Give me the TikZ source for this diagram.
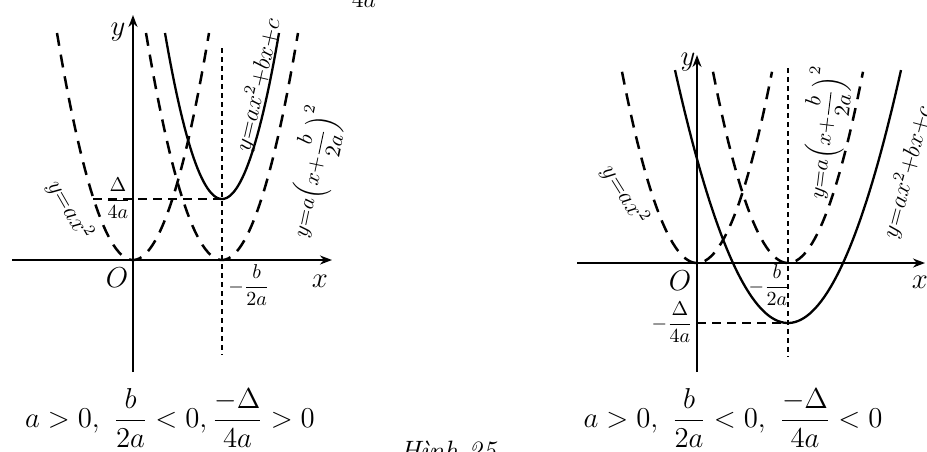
\documentclass[tikz,border=0pt]{standalone}
\usepackage{amsmath}
\usetikzlibrary{arrows.meta}
\begin{document}
\begin{tikzpicture}[x=0.5pt,y=-0.5pt,
  axis/.style={line width=0.95pt,-{Stealth[length=6pt,width=4.5pt]}},
  para/.style={line width=1.25pt,dash pattern=on 6.5pt off 4.5pt},
  curve/.style={line width=1.15pt},
  guide/.style={line width=0.6pt,dash pattern=on 2.5pt off 2pt},
  hguide/.style={line width=0.7pt,dash pattern=on 4.5pt off 3pt},
  lbl/.style={inner sep=0pt,font=\fontsize{12}{14}\selectfont},
  flbl/.style={inner sep=0pt,font=\fontsize{11}{13}\selectfont},
  small/.style={inner sep=0pt,font=\fontsize{10}{12}\selectfont},
  axlbl/.style={inner sep=0pt,font=\fontsize{14}{16}\selectfont},
  captxt/.style={inner sep=0pt,font=\fontsize{14}{17}\selectfont}]
\useasboundingbox (0,0) rectangle (927,451);

% ---------- left diagram ----------
\draw[axis] (12,260) -- (332,260);
\draw[axis] (133,372) -- (133,15);
\draw[guide] (222,48) -- (222,355);
\draw[hguide] (93,199) -- (222,199);
\draw[para] plot[domain=57:209,samples=60] (\x,{260-0.0393*(\x-133)*(\x-133)});
\draw[para] plot[domain=146:298,samples=60] (\x,{260-0.0393*(\x-222)*(\x-222)});
\draw[curve] plot[domain=165:279,samples=60] (\x,{199-0.0511*(\x-222)*(\x-222)});

\node[axlbl] (ly) at (118,32) {$y$};
\node[axlbl] (lO) at (117,278) {$O$};
\node[axlbl] (lx) at (320,281) {$x$};
\node[small,anchor=base] (lD) at (118,205) {$\dfrac{\Delta}{4a}$};
\node[small,anchor=base west] (lb) at (228,292) {$-\dfrac{b}{2a}$};
\node[lbl,rotate=-60] (lf1) at (70,210) {$y{=}ax^{2}$};
\node[lbl,rotate=77] (lf2) at (258,85) {$y{=}ax^{2}{+}bx{+}c$};
\node[flbl,rotate=78] (lf3) at (313,172) {$y{=}a\Bigl(x{+}\dfrac{b}{2a}\Bigr)^{2}$};
\node[captxt] (lcap) at (170,418) {$a>0,\ \dfrac{b}{2a}<0,\dfrac{-\Delta}{4a}>0$};

% ---------- right diagram ----------
\draw[axis] (577,263) -- (925,263);
\draw[axis] (697,372) -- (697,55);
\draw[guide] (788,68) -- (788,357);
\draw[hguide] (697,323) -- (788,323);
\draw[para] plot[domain=622:772,samples=60] (\x,{263-0.034*(\x-697)*(\x-697)});
\draw[para] plot[domain=713:863,samples=60] (\x,{263-0.034*(\x-788)*(\x-788)});
\draw[curve] plot[domain=675:901,samples=80] (\x,{323-0.0198*(\x-788)*(\x-788)});

\node[axlbl] (ry) at (688,62) {$y$};
\node[axlbl] (rO) at (680,281) {$O$};
\node[axlbl] (rx) at (920,282) {$x$};
\node[small,anchor=base east] (rD) at (693,329) {$-\dfrac{\Delta}{4a}$};
\node[small,anchor=base east] (rb) at (790,292) {$-\dfrac{b}{2a}$};
\node[lbl,rotate=-58] (rf1) at (625,195) {$y{=}ax^{2}$};
\node[flbl,rotate=83] (rf3) at (824,133) {$y{=}a\Bigl(x{+}\dfrac{b}{2a}\Bigr)^{2}$};
\node[lbl,rotate=75] (rf2) at (907,172) {$y{=}ax^{2}{+}bx{+}c$};
\node[captxt] (rcap) at (733,418) {$a>0,\ \dfrac{b}{2a}<0,\ \dfrac{-\Delta}{4a}<0$};

% ---------- captions / fragments ----------
\node[captxt,anchor=base] (fig) at (448,460) {\itshape Hình 25};
\node[lbl,anchor=base] (frag) at (364,7) {$4a$};
\end{tikzpicture}
\end{document}
